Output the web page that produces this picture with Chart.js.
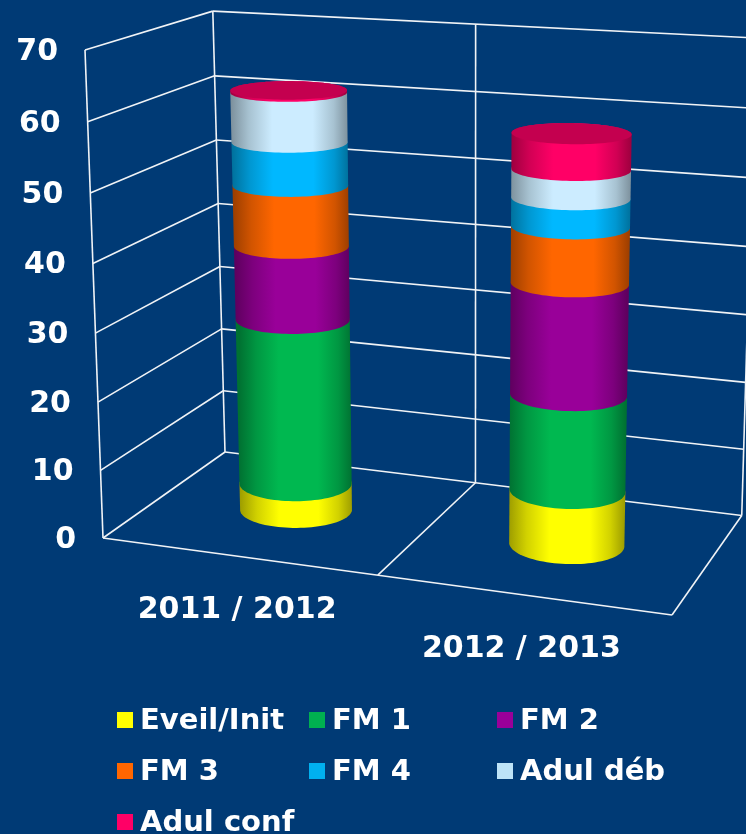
<!DOCTYPE html>
<html>
<head>
<meta charset="utf-8">
<script src="https://cdn.jsdelivr.net/npm/chart.js@4"></script>
<style>
    html, body {margin: 0; padding: 0; background: #003a75;}
    canvas {display: block;}
</style>
</head>
<body>
<canvas id="chart" width="746" height="834"></canvas>
<script>
const years = ['2011 / 2012', '2012 / 2013'];
const eveil = [4, 7.9];
const fm1 = [24.7, 13.9];
const fm2 = [10.9, 15.9];
const fm3 = [8.9, 8];
const fm4 = [6.3, 4];
const adulDeb = [7.2, 4];
const adulConf = [0.3, 5];

const names = ['Eveil/Init', 'FM 1', 'FM 2', 'FM 3', 'FM 4', 'Adul déb', 'Adul conf'];
const series = [eveil, fm1, fm2, fm3, fm4, adulDeb, adulConf];
const colors = ['#ffff00', '#00b850', '#990099', '#ff6600', '#00b8ff', '#ccecff', '#ff0066'];
const swatches = ['#ffff00', '#00b050', '#990099', '#ff6600', '#00b0f0', '#bde3f7', '#ff0066'];
const capColor = '#c4004f';
const lineColor = '#f0f3f6';
const tickFont = 'bold 30px "DejaVu Sans"';
const legendFont = 'bold 29px "DejaVu Sans"';

// camera: where three box corners land on the page + perspective terms
const O = [103, 538], PU = [672, 615], PV = [85, 50], PW = [225, 452];
const pa = -0.066, pb = -0.035, pc = 0.11;
const twist = [9, -10]; // the back wall's top edge is flatter than plain perspective gives
const radU = 0.099, radW = 0.19;

const axisVec = (P, k) => [(1 + k) * P[0] - O[0], (1 + k) * P[1] - O[1]];
const A = axisVec(PU, pa), B = axisVec(PV, pb), C = axisVec(PW, pc);

const project = function (u, v, w) {
    const d = 1 + u * pa + v * pb + w * pc;
    return [
        (O[0] + u * A[0] + v * B[0] + w * C[0] + u * v * twist[0]) / d,
        (O[1] + u * A[1] + v * B[1] + w * C[1] + u * v * twist[1]) / d
    ];
}

const shade = function (hex, k) {
    const n = parseInt(hex.slice(1), 16);
    const f = (c) => Math.round(c * k);
    return `rgb(${f(n >> 16)},${f((n >> 8) & 255)},${f(n & 255)})`;
}

const ring = function (u, v, w) {
    const pts = [];
    for (let i = 0; i < 96; i++) {
        const t = i / 96 * Math.PI * 2;
        pts.push(project(u + radU * Math.cos(t), v, w + radW * Math.sin(t)));
    }
    return pts;
}

// arc of the ring between its left and right extremes, front or back side
const sideArc = function (pts, front) {
    let l = 0, r = 0;
    pts.forEach((p, i) => {
        if (p[0] < pts[l][0]) l = i;
        if (p[0] > pts[r][0]) r = i;
    });
    const out = [];
    for (let i = l; ; i = (i + 1) % pts.length) {
        out.push(pts[i]);
        if (i === r) break;
    }
    const other = [];
    for (let i = l; ; i = (i - 1 + pts.length) % pts.length) {
        other.push(pts[i]);
        if (i === r) break;
    }
    const mid = (a) => a[Math.floor(a.length / 2)][1];
    return (mid(out) > mid(other)) === front ? out : other;
}

const segLine = function (ctx, a, b) {
    ctx.beginPath();
    ctx.moveTo(a[0], a[1]);
    ctx.lineTo(b[0], b[1]);
    ctx.stroke();
}

const drawCylinderPart = function (ctx, u, v0, v1, w, color) {
    const low = sideArc(ring(u, v0, w), true);
    const top = sideArc(ring(u, v1, w), false).reverse();
    const x0 = low[0][0], x1 = low[low.length - 1][0];
    const g = ctx.createLinearGradient(x0, 0, x1, 0);
    g.addColorStop(0, shade(color, 0.62));
    g.addColorStop(0.15, shade(color, 0.82));
    g.addColorStop(0.35, color);
    g.addColorStop(0.7, color);
    g.addColorStop(0.88, shade(color, 0.82));
    g.addColorStop(1, shade(color, 0.62));
    ctx.fillStyle = g;
    ctx.beginPath();
    low.concat(top).forEach((p, i) => i ? ctx.lineTo(p[0], p[1]) : ctx.moveTo(p[0], p[1]));
    ctx.closePath();
    ctx.fill();
}

const cylinders3d = {
    id: 'cylinders3d',
    beforeDatasetsDraw(chart) {
        const {ctx, scales: {x, y}} = chart;
        const toU = (px) => (px - x.left) / (x.right - x.left);
        const toV = (px) => (y.bottom - px) / (y.bottom - y.top);

        ctx.save();
        ctx.lineWidth = 1.6;
        ctx.strokeStyle = lineColor;

        // walls
        y.ticks.forEach((t) => {
            const v = toV(y.getPixelForValue(t.value));
            segLine(ctx, project(0, v, 0), project(0, v, 1));
            segLine(ctx, project(0, v, 1), project(1, v, 1));
        });
        segLine(ctx, project(0, 0, 0), project(0, 1, 0));
        segLine(ctx, project(0, 0, 1), project(0, 1, 1));
        segLine(ctx, project(0.5, 0, 1), project(0.5, 1, 1));
        segLine(ctx, project(1, 0, 1), project(1, 1, 1));
        // floor
        segLine(ctx, project(0, 0, 0), project(1, 0, 0));
        segLine(ctx, project(0.5, 0, 0), project(0.5, 0, 1));
        segLine(ctx, project(1, 0, 0), project(1, 0, 1));

        // cylinders, stacked from the bar elements
        const w = 0.5;
        years.forEach((_, j) => {
            let last = null;
            series.forEach((_, i) => {
                const bar = chart.getDatasetMeta(i).data[j];
                const u = toU(bar.x);
                drawCylinderPart(ctx, u, toV(bar.base), toV(bar.y), w, colors[i]);
                last = [u, toV(bar.y)];
            });
            const cap = ring(last[0], last[1], w);
            ctx.fillStyle = capColor;
            ctx.beginPath();
            cap.forEach((p, i) => i ? ctx.lineTo(p[0], p[1]) : ctx.moveTo(p[0], p[1]));
            ctx.closePath();
            ctx.fill();
        });

        // tick labels follow the front edge of the left wall
        ctx.font = tickFont;
        ctx.fillStyle = '#ffffff';
        ctx.textBaseline = 'middle';
        ctx.textAlign = 'right';
        y.ticks.forEach((t) => {
            const p = project(0, toV(y.getPixelForValue(t.value)), 0);
            ctx.fillText(t.label, p[0] - 27, p[1] + 2);
        });

        // category labels
        ctx.textAlign = 'center';
        years.forEach((label, j) => {
            const p = project(toU(x.getPixelForValue(j)), 0, 0);
            ctx.fillText(label, p[0] - 1, p[1] + 54);
        });

        // legend
        const cols = [117, 309, 497], rows = [720, 771, 822];
        ctx.font = legendFont;
        chart.data.datasets.forEach((ds, i) => {
            const cx = cols[i % 3], cy = rows[Math.floor(i / 3)];
            ctx.fillStyle = swatches[i];
            ctx.fillRect(cx, cy - 8, 16, 16);
            ctx.fillStyle = '#ffffff';
            ctx.textAlign = 'left';
            ctx.fillText(ds.label, cx + 23, cy + 1);
        });
        ctx.restore();
        return false;
    }
};

new Chart(document.getElementById('chart'), {
    type: 'bar',
    data: {
        labels: years,
        datasets: series.map((data, i) => ({label: names[i], data, backgroundColor: swatches[i]}))
    },
    plugins: [cylinders3d],
    options: {
        responsive: false,
        animation: false,
        devicePixelRatio: 1,
        layout: {padding: {left: 100, right: 70, top: 50, bottom: 220}},
        plugins: {legend: {display: false}, tooltip: {enabled: false}},
        scales: {
            x: {stacked: true, grid: {display: false}, border: {display: false}, ticks: {display: false}},
            y: {stacked: true, min: 0, max: 70, ticks: {display: false, stepSize: 10}, grid: {display: false}, border: {display: false}}
        }
    }
});
</script>
</body>
</html>
